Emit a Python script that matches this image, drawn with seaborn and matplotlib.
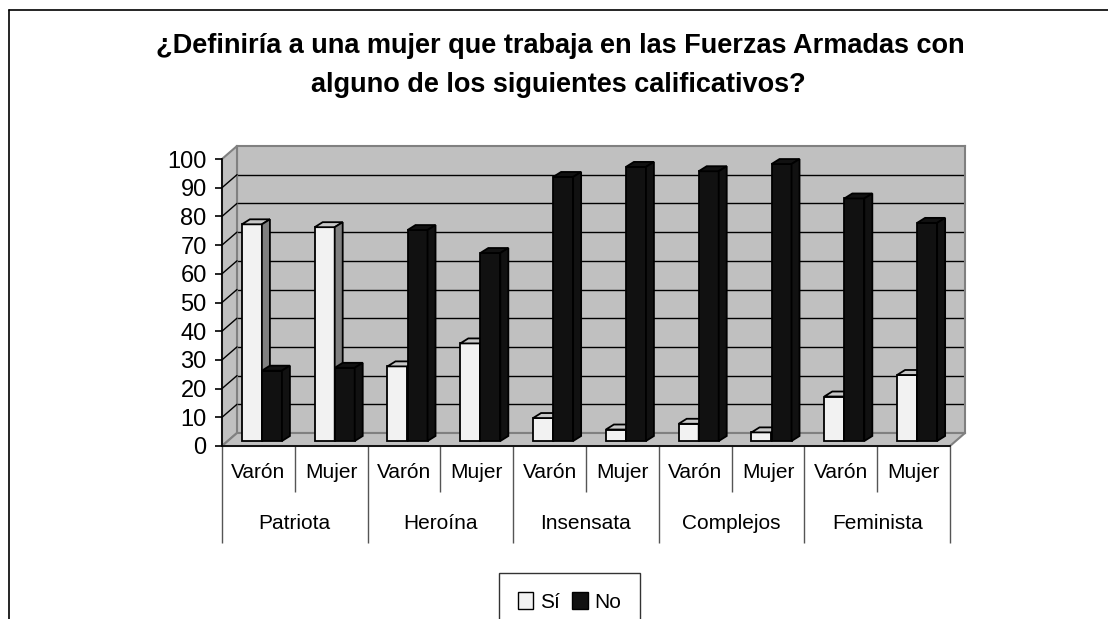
import matplotlib
matplotlib.use("Agg")
import matplotlib.pyplot as plt
import matplotlib.transforms as mtransforms
from matplotlib import font_manager
from matplotlib.patches import Polygon, Patch
from matplotlib.lines import Line2D
import pandas as pd
import seaborn as sns

# data
categorias = ["Patriota", "Heroína", "Insensata", "Complejos", "Feminista"]
sexos = ["Varón", "Mujer"]
respuestas = ["Sí", "No"]
si_vals = [75.5, 74.5, 26, 34, 8, 4, 6, 3, 15.5, 23]
no_vals = [24.5, 25.5, 73.5, 65.5, 92, 95.5, 94, 96.5, 84.5, 76]
y_ticks = list(range(0, 101, 10))
titulo = ["¿Definiría a una mujer que trabaja en las Fuerzas Armadas con",
          "alguno de los siguientes calificativos?"]

W, H = 1108, 619
GRIS = "#c0c0c0"
GRIS_OSC = "#808080"
COLORES = ["#f2f2f2", "#111111"]

# front plane of the 3d box, in pixels (top-down)
FX0, FX1, FY0, FY1 = 222, 950, 446, 159
DX, DY = 15, -13


def fx(x):
    return x / W


def fy(y):
    return 1 - y / H


def box(x0, y0, x1, y1):
    return [fx(x0), fy(y1), (x1 - x0) / W, (y1 - y0) / H]


sns.set_theme(style="white")
plt.rcParams["font.family"] = ["Liberation Sans", "DejaVu Sans"]
for k in ["text.color", "axes.labelcolor", "xtick.color", "ytick.color"]:
    plt.rcParams[k] = "black"
installed = {f.name for f in font_manager.fontManager.ttflist}
if "Liberation Sans Narrow" in installed:
    narrow = ["Liberation Sans Narrow", "Liberation Sans"]
    lab_size = 17
else:
    narrow = ["Liberation Sans", "DejaVu Sans"]
    lab_size = 15

fig = plt.figure(figsize=(W / 100, H / 100), dpi=100)

# outer frame (left and top only are visible)
fig.add_artist(Line2D([fx(9), fx(9)], [fy(10), 0], color="black", lw=1.2,
                      transform=fig.transFigure))
fig.add_artist(Line2D([fx(9), 1], [fy(10), fy(10)], color="black", lw=1.2,
                      transform=fig.transFigure))

# back wall
axw = fig.add_axes(box(FX0 + DX, FY1 + DY, FX1 + DX, FY0 + DY), zorder=0)
axw.set_facecolor(GRIS)
axw.set_xlim(0, 1)
axw.set_ylim(0, 100)
axw.set_yticks(y_ticks[1:-1])
axw.set_xticks([])
axw.grid(True, axis="y", color="black", linewidth=1)
axw.tick_params(left=False, labelleft=False, bottom=False, labelbottom=False)
for s in axw.spines.values():
    s.set_color(GRIS_OSC)
    s.set_linewidth(1.5)


def poly(pts, **kw):
    p = Polygon([(fx(x), fy(y)) for x, y in pts], closed=True,
                transform=fig.transFigure, **kw)
    fig.add_artist(p)


# side wall and floor
poly([(FX0, FY0), (FX0, FY1), (FX0 + DX, FY1 + DY), (FX0 + DX, FY0 + DY)],
     facecolor=GRIS, edgecolor=GRIS_OSC, lw=1.5, zorder=0.5)
poly([(FX0, FY0), (FX1, FY0), (FX1 + DX, FY0 + DY), (FX0 + DX, FY0 + DY)],
     facecolor=GRIS, edgecolor=GRIS_OSC, lw=1.5, zorder=0.5)
for v in y_ticks[1:-1]:
    yf = FY0 - v * (FY0 - FY1) / 100
    fig.add_artist(Line2D([fx(FX0), fx(FX0 + DX)], [fy(yf), fy(yf + DY)],
                          color="black", lw=1, transform=fig.transFigure, zorder=0.6))

# main axes (front plane)
ax = fig.add_axes(box(FX0, FY1, FX1, FY0), zorder=2)
ax.set_facecolor("none")

etiquetas = [f"{c}|{s}" for c in categorias for s in sexos]
df = pd.DataFrame({
    "barra": etiquetas * 2,
    "respuesta": ["Sí"] * len(etiquetas) + ["No"] * len(etiquetas),
    "valor": si_vals + no_vals,
})
sns.barplot(data=df, x="barra", y="valor", hue="respuesta", order=etiquetas,
            hue_order=respuestas, palette=COLORES, width=0.55, saturation=1,
            edgecolor="black", linewidth=1.3, legend=False, ax=ax)
ax.set_xlim(-0.5, len(etiquetas) - 0.5)
ax.set_ylim(0, 100)

# bars sit a little behind the front plane; give them depth faces
off = mtransforms.ScaledTranslation(3.5 / 100, 5 / 100, fig.dpi_scale_trans)
ddx = 8 / ((FX1 - FX0) / len(etiquetas))
ddy = 5 / ((FY0 - FY1) / 100)
caras = [("#c8c8c8", GRIS_OSC), ("#111111", "#111111")]
for k, cont in enumerate(ax.containers):
    top_c, side_c = caras[k]
    for p in cont.patches:
        p.set_transform(ax.transData + off)
        p.set_clip_on(False)
        p.set_zorder(2 + k)
        x0, w, h = p.get_x(), p.get_width(), p.get_height()
        top = [(x0, h), (x0 + w, h), (x0 + w + ddx, h + ddy), (x0 + ddx, h + ddy)]
        side = [(x0 + w, 0), (x0 + w, h), (x0 + w + ddx, h + ddy), (x0 + w + ddx, ddy)]
        for pts, c in ((top, top_c), (side, side_c)):
            ax.add_patch(Polygon(pts, closed=True, facecolor=c, edgecolor="black",
                                 lw=1.3, transform=ax.transData + off,
                                 clip_on=False, zorder=2.1 + k))

# axes decorations
for s in ["top", "right"]:
    ax.spines[s].set_visible(False)
ax.spines["left"].set_color("black")
ax.spines["bottom"].set_color("black")
ax.spines["left"].set_linewidth(1.2)
ax.spines["bottom"].set_linewidth(1.2)
ax.set_xlabel("")
ax.set_ylabel("")
ax.set_yticks(y_ticks)
ax.tick_params(axis="y", left=True, length=5, width=1.2, color="black",
               pad=6, labelsize=17)
ax.set_xticks(range(len(etiquetas)), labels=sexos * len(categorias))
ax.set_xticks([i + 0.5 for i in range(0, len(etiquetas), 2)], minor=True)
ax.tick_params(axis="x", which="major", bottom=True, length=0, pad=12)
ax.tick_params(axis="x", which="minor", bottom=True, length=33, width=1,
               color="#555555")
for t in ax.get_xticklabels():
    t.set_family(narrow)
    t.set_fontsize(lab_size)

ax2 = ax.secondary_xaxis("bottom")
ax2.spines["bottom"].set_visible(False)
ax2.set_xticks([i - 0.5 for i in range(0, len(etiquetas) + 1, 2)],
               labels=[""] * (len(categorias) + 1))
ax2.set_xticks([i + 0.5 for i in range(0, len(etiquetas), 2)],
               labels=categorias, minor=True)
ax2.tick_params(which="major", bottom=True, length=70, width=1, color="#555555")
ax2.tick_params(which="minor", bottom=True, length=0, pad=49)
for t in ax2.get_xticklabels(minor=True):
    t.set_family(narrow)
    t.set_fontsize(lab_size)

# title
fig.text(fx(560), fy(53), titulo[0], ha="center", va="baseline",
         fontsize=19.5, fontweight="bold", color="black")
fig.text(fx(558), fy(91.5), titulo[1], ha="center", va="baseline",
         fontsize=19.5, fontweight="bold", color="black")

# legend
handles = [Patch(facecolor=c, edgecolor="black", label=r)
           for c, r in zip(COLORES, respuestas)]
leg = fig.legend(handles=handles, loc="upper left",
                 bbox_to_anchor=(fx(499), fy(573)), borderaxespad=0, ncol=2,
                 frameon=True, fancybox=False, handlelength=0.75,
                 handleheight=0.9, handletextpad=0.3, columnspacing=0.6,
                 borderpad=0.9, prop={"family": narrow, "size": 15})
leg.get_frame().set_edgecolor("black")
leg.get_frame().set_linewidth(1)

fig.savefig("out.png", dpi=100)
